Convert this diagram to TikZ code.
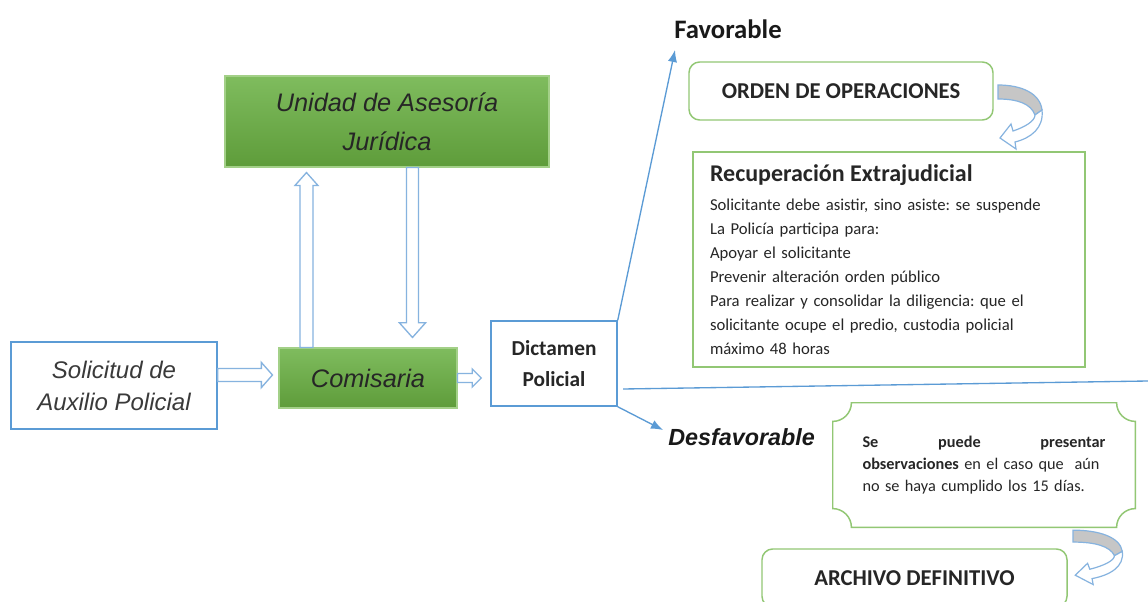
\documentclass[tikz,border=0pt]{standalone}
\usepackage{fontspec}
\setmainfont{Carlito}
\newfontfamily\arialf{Liberation Sans}
\usetikzlibrary{calc,arrows.meta}
\definecolor{lineblue}{HTML}{5B9BD5}
\definecolor{hollowblue}{HTML}{86B3DF}
\definecolor{gtop}{HTML}{7FBC5E}
\definecolor{gbot}{HTML}{5E9C3A}
\definecolor{gedge}{HTML}{A3D088}
\definecolor{boxgreen}{HTML}{92C774}
\definecolor{curvegray}{HTML}{C6C6C6}
\definecolor{txtgray}{HTML}{3A3A3A}
\newcommand\hollowH[5]{\draw[hollow] let \p1=#1, \p2=#2 in (\x1,\y1+#3) -- (\x2-#5,\y1+#3) -- (\x2-#5,\y1+#4) -- (\x2,\y1) -- (\x2-#5,\y1-#4) -- (\x2-#5,\y1-#3) -- (\x1,\y1-#3) -- cycle;}
\newcommand\hollowUp[5]{\draw[hollow] let \p1=#1, \p2=#2 in (\x1+#3,\y1) -- (\x1+#3,\y2-#5) -- (\x1+#4,\y2-#5) -- (\x1,\y2) -- (\x1-#4,\y2-#5) -- (\x1-#3,\y2-#5) -- (\x1-#3,\y1) -- cycle;}
\newcommand\hollowDown[5]{\draw[hollow] let \p1=#1, \p2=#2 in (\x1+#3,\y1) -- (\x1+#3,\y2+#5) -- (\x1+#4,\y2+#5) -- (\x1,\y2) -- (\x1-#4,\y2+#5) -- (\x1-#3,\y2+#5) -- (\x1-#3,\y1) -- cycle;}
\def\plqr{14pt}
\frenchspacing
\begin{document}
\begin{tikzpicture}[x=0.75pt,y=-0.75pt,
 greenfill/.style={draw=gedge, line width=0.8pt, top color=gtop, bottom color=gbot, inner sep=0pt, align=center},
 bluebox/.style={draw=lineblue, line width=1.1pt, fill=white, inner sep=0pt, align=center},
 tbox/.style={draw=boxgreen, line width=1.1pt, fill=white, inner sep=0pt},
 hollow/.style={draw=hollowblue, line width=1pt, fill=white},
 thinline/.style={draw=lineblue, line width=1pt},
 bluetip/.style={-{Latex[length=9pt,width=7pt]}},
 curvarrow/.pic={
  \filldraw[draw=hollowblue, line width=0.9pt, fill=curvegray] (0,-1) .. controls (23,-1) and (42,7) .. (44,24) -- (37,29) .. controls (33,18) and (20,13) .. (0,13) -- cycle;
  \filldraw[draw=hollowblue, line width=0.9pt, fill=white] (44,24) .. controls (46,42) and (33,52) .. (17,56) -- (18,63) -- (2,52) -- (13,38) -- (15,45) .. controls (27,41) and (37,35) .. (37,29) -- cycle;
 }
]
\useasboundingbox (0,0) rectangle (1148,602);
\fill[white] (0,0) rectangle (1148,602);

% main nodes
\node[bluebox, minimum width=206*0.75pt, minimum height=87*0.75pt, font=\arialf\itshape\fontsize{18}{24}\selectfont, text=txtgray] (sol) at (114,385.5) {Solicitud de\\Auxilio Policial};
\node[greenfill, minimum width=178*0.75pt, minimum height=60*0.75pt, font=\arialf\itshape\fontsize{19}{24}\selectfont, text=black!85] (com) at (368,378) {Comisaria};
\node[greenfill, minimum width=324*0.75pt, minimum height=91*0.75pt, font=\arialf\itshape\fontsize{19}{29}\selectfont, text=black!85] (unidad) at (387,121.5) {Unidad de Asesoría\\Jurídica};
\node[bluebox, minimum width=126*0.75pt, minimum height=85*0.75pt, font=\bfseries\fontsize{16}{23}\selectfont, text=black!85] (dict) at (554,363.5) {Dictamen\\Policial};

\node[anchor=west, inner sep=0pt, font=\bfseries\fontsize{20}{24}\selectfont, text=black!90] (fav) at (674,29) {Favorable};
\node[anchor=west, inner sep=0pt, font=\arialf\bfseries\itshape\fontsize{17.5}{21}\selectfont, text=black!90] (desf) at (668,437) {Desfavorable};

\node[tbox, rounded corners=8pt, minimum width=304*0.75pt, minimum height=58*0.75pt, font=\bfseries\fontsize{17}{20}\selectfont, text=black!85] (orden) at (841,91) {ORDEN DE OPERACIONES};

\node[tbox, minimum width=392*0.75pt, minimum height=215*0.75pt, text width=358*0.75pt, align=left, font=\fontsize{12.5}{18}\selectfont, text=black!85] (recup) at (889,259.5) {{\bfseries\fontsize{18}{24}\selectfont Recuperación Extrajudicial}\\[4pt]
Solicitante debe asistir, sino asiste: se suspende\\
La Policía participa para:\\
Apoyar el solicitante\\
Prevenir alteración orden público\\
Para realizar y consolidar la diligencia: que el\\
solicitante ocupe el predio, custodia policial\\
máximo 48 horas};

\node[minimum width=302*0.75pt, minimum height=124*0.75pt, text width=243*0.75pt, align=left, inner sep=0pt, font=\fontsize{12.2}{16.5}\selectfont, text=black!85] (plq) at (984,465) {\textbf{Se}\hfill\textbf{puede}\hfill\textbf{presentar}\\ \textbf{observaciones} en el caso que~ aún\\ no se haya cumplido los 15 días.};
\draw[draw=boxgreen, line width=1.1pt] ([xshift=\plqr]plq.north west) -- ([xshift=-\plqr]plq.north east) arc[start angle=180,end angle=270,radius=\plqr] -- ([yshift=\plqr]plq.south east) arc[start angle=90,end angle=180,radius=\plqr] -- ([xshift=\plqr]plq.south west) arc[start angle=0,end angle=90,radius=\plqr] -- ([yshift=-\plqr]plq.north west) arc[start angle=270,end angle=360,radius=\plqr] -- cycle;

\node[tbox, rounded corners=8pt, minimum width=305*0.75pt, minimum height=58*0.75pt, font=\bfseries\fontsize{17}{20}\selectfont, text=black!85] (arch) at (914.5,578) {ARCHIVO DEFINITIVO};

% hollow arrows
\hollowH{($(sol.east)+(0,-10.5)$)}{($(com.west)+(-6,-3)$)}{4.9pt}{9.4pt}{8.3pt}
\hollowH{(com.east)}{($(dict.west |- com.east)+(-9,0)$)}{3.4pt}{6.8pt}{6.8pt}
\hollowUp{($(com.north west)+(28,0)$)}{($(unidad.south west)+(82,5)$)}{4.9pt}{8.6pt}{9.7pt}
\hollowDown{($(unidad.south west)+(188,0)$)}{($(com.north west)+(134,-10)$)}{4.5pt}{9.8pt}{11pt}

% thin connectors
\coordinate (favtip) at (675,50);
\coordinate (desftip) at (663,430);
\coordinate (hl1) at (623,389);
\coordinate (hl2) at (1148,381);
\draw[thinline, bluetip] (dict.north east) -- (favtip);
\draw[thinline, bluetip] (dict.south east) -- (desftip);
\draw[thinline] (hl1) -- (hl2);

% curved arrows
\pic at (998,86) {curvarrow};
\pic[xscale=1.12, yscale=0.85] at (1073,531) {curvarrow};
\end{tikzpicture}
\end{document}
